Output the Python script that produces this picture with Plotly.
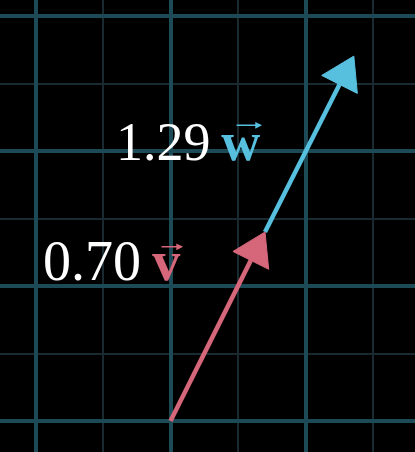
## IMPORTING

import numpy as np
import plotly.graph_objects as go


## Data

v = [1.0, 2.0]          # red vector
w = [0.51, 1.01]        # blue vector
v_scale = 0.70
w_scale = 1.29
v_label = "0.70"
w_label = "1.29"

# colours
red = "#d6677a"
blue = "#58c0df"
grid_major = "#1d4a57"
grid_minor = "#192a30"


## Function: build an arrow (stem + triangle head) from a start point and vector

def arrow_traces(start, vec, color, head_len=0.235, head_half=0.148, width=4.5):
    start = np.array(start, dtype=float)
    tip = start + np.array(vec, dtype=float)
    u = (tip - start) / np.linalg.norm(tip - start)
    n = np.array([-u[1], u[0]])
    base = tip - head_len * u

    stem = go.Scatter(x=[start[0], base[0]], y=[start[1], base[1]],
                      mode="lines", line=dict(color=color, width=width),
                      hoverinfo="skip", showlegend=False)

    corners = [base + head_half * n, tip, base - head_half * n]
    head = go.Scatter(x=[c[0] for c in corners] + [corners[0][0]],
                      y=[c[1] for c in corners] + [corners[0][1]],
                      mode="lines", fill="toself", fillcolor=color,
                      line=dict(color=color, width=1),
                      hoverinfo="skip", showlegend=False)
    return [stem, head], tip


## Plotting

fig = go.Figure()

v_vec = [v_scale * v[0], v_scale * v[1]]
w_vec = [w_scale * w[0], w_scale * w[1]]

red_traces, red_tip = arrow_traces([0, 0], v_vec, red)
blue_traces, blue_tip = arrow_traces(red_tip, w_vec, blue)

for t in blue_traces + red_traces:
    fig.add_trace(t)

serif = "Liberation Serif"

# labels
fig.add_annotation(x=-0.96, y=1.185, xref="x", yref="y", xanchor="left", yanchor="middle",
                   text=f"{v_label}\u2009<b><span style='color:{red}'>v</span></b>",
                   showarrow=False, font=dict(family=serif, size=56, color="white"))
fig.add_annotation(x=-0.42, y=2.065, xref="x", yref="y", xanchor="left", yanchor="middle",
                   text=f"{w_label}\u2009<b><span style='color:{blue}'>w</span></b>",
                   showarrow=False, font=dict(family=serif, size=54, color="white"))

# vector accents (small arrows above the letters)
fig.add_annotation(x=0.093, y=1.29, xref="x", yref="y", text="", showarrow=True,
                   ax=-23, ay=0, arrowhead=2, arrowsize=0.9, arrowwidth=1.5, arrowcolor=red)
fig.add_annotation(x=0.678, y=2.19, xref="x", yref="y", text="", showarrow=True,
                   ax=-27, ay=0, arrowhead=2, arrowsize=0.9, arrowwidth=1.5, arrowcolor=blue)

fig.update_xaxes(range=[-170.5 / 135, 244.5 / 135], dtick=1, tick0=0,
                 showgrid=True, gridcolor=grid_major, gridwidth=3.5,
                 minor=dict(dtick=0.5, tick0=0, showgrid=True, gridcolor=grid_minor, gridwidth=1.8),
                 zeroline=False, showticklabels=False, ticks="", showline=False)
fig.update_yaxes(range=[-31 / 135, 421 / 135], dtick=1, tick0=0,
                 showgrid=True, gridcolor=grid_major, gridwidth=3.5,
                 minor=dict(dtick=0.5, tick0=0, showgrid=True, gridcolor=grid_minor, gridwidth=1.8),
                 zeroline=False, showticklabels=False, ticks="", showline=False)

fig.update_layout(width=415, height=452, margin=dict(l=0, r=0, t=0, b=0),
                  paper_bgcolor="black", plot_bgcolor="black", showlegend=False)

# page body margin off so the figure sits at the window corner
fig.write_html("out.html", config={"displayModeBar": False},
               post_script="document.body.style.margin='0';document.body.style.background='black';")
